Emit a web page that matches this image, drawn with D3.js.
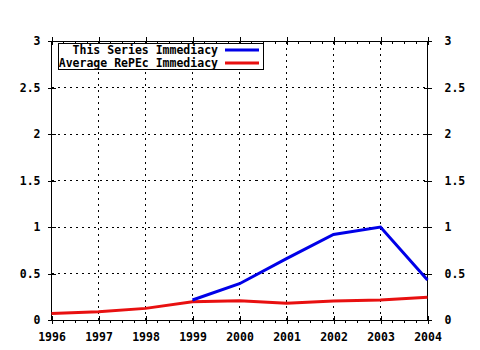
<!DOCTYPE html>
<html><head><meta charset="utf-8">
<script src="https://cdn.jsdelivr.net/npm/d3@7"></script>
<style>
body{margin:0;background:#fff;}
text{font-family:"DejaVu Sans Mono",monospace;font-weight:bold;font-size:11.5px;fill:#000;}
</style></head>
<body>
<svg id="c" width="480" height="350"></svg>
<script>
const years = [1996,1997,1998,1999,2000,2001,2002,2003,2004];
const seriesYears = [1999,2000,2001,2002,2003,2004];
const seriesValues = [0.215,0.39,0.66,0.92,1.0,0.43];
const averageValues = [0.07,0.09,0.125,0.197,0.207,0.18,0.205,0.215,0.244];
const yTicks = [0,0.5,1,1.5,2,2.5,3];
const yTickLabels = ["0","0.5","1","1.5","2","2.5","3"];
const legendLabels = ["This Series Immediacy","Average RePEc Immediacy"];
const colors = ["#0000e8","#e81010"];

const svg = d3.select("#c");
const L=51.5, R=427.5, T=41, B=320;
const x = d3.scaleLinear().domain([1996,2004]).range([L,R]);
const y = d3.scaleLinear().domain([0,3]).range([B,T]);

const g = svg.append("g");
// grid
g.selectAll(".gx").data(years.slice(1,-1)).enter().append("line")
  .attr("x1",d=>x(d)).attr("x2",d=>x(d)).attr("y1",B).attr("y2",T)
  .attr("stroke","#000").attr("stroke-width",1).attr("stroke-dasharray","2,4").attr("shape-rendering","crispEdges");
g.selectAll(".gy").data(yTicks.slice(1,-1)).enter().append("line")
  .attr("x1",L).attr("x2",R).attr("y1",d=>y(d)).attr("y2",d=>y(d))
  .attr("stroke","#000").attr("stroke-width",1).attr("stroke-dasharray","2,4").attr("shape-rendering","crispEdges");

// axes via d3
const fmtY = (d,i)=>yTickLabels[yTicks.indexOf(d)];
const minor = d3.range(1996,2004.001,0.25).filter(v=>Math.abs(v-Math.round(v))>0.01);
function styleAxis(sel){
  sel.select(".domain").remove();
  sel.selectAll("line").attr("stroke","#000").attr("shape-rendering","crispEdges");
}
// bottom
svg.append("g").attr("transform",`translate(0,${B})`)
  .call(d3.axisBottom(x).tickValues(years).tickFormat(d3.format("d")).tickSizeInner(4).tickSizeOuter(0).tickPadding(9))
  .call(styleAxis);
svg.append("g").attr("transform",`translate(0,${B})`)
  .call(d3.axisBottom(x).tickValues(minor).tickFormat("").tickSizeInner(3).tickSizeOuter(0))
  .call(styleAxis);
svg.append("g").attr("transform",`translate(0,${B})`)
  .call(d3.axisTop(x).tickValues(years).tickFormat("").tickSizeInner(4).tickSizeOuter(0))
  .call(styleAxis);
// top
svg.append("g").attr("transform",`translate(0,${T})`)
  .call(d3.axisTop(x).tickValues(years).tickFormat("").tickSizeInner(4).tickSizeOuter(0))
  .call(styleAxis);
svg.append("g").attr("transform",`translate(0,${T})`)
  .call(d3.axisBottom(x).tickValues(years).tickFormat("").tickSizeInner(4).tickSizeOuter(0))
  .call(styleAxis);
svg.append("g").attr("transform",`translate(0,${T})`)
  .call(d3.axisBottom(x).tickValues(minor).tickFormat("").tickSizeInner(3).tickSizeOuter(0))
  .call(styleAxis);
// left
svg.append("g").attr("transform",`translate(${L},0)`)
  .call(d3.axisLeft(y).tickValues(yTicks).tickFormat(fmtY).tickSizeInner(4).tickSizeOuter(0).tickPadding(7))
  .call(styleAxis);
svg.append("g").attr("transform",`translate(${L},0)`)
  .call(d3.axisRight(y).tickValues(yTicks).tickFormat("").tickSizeInner(4).tickSizeOuter(0))
  .call(styleAxis);
// right
svg.append("g").attr("transform",`translate(${R},0)`)
  .call(d3.axisRight(y).tickValues(yTicks).tickFormat(fmtY).tickSizeInner(4).tickSizeOuter(0).tickPadding(13))
  .call(styleAxis);
svg.append("g").attr("transform",`translate(${R},0)`)
  .call(d3.axisLeft(y).tickValues(yTicks).tickFormat("").tickSizeInner(4).tickSizeOuter(0))
  .call(styleAxis);
svg.selectAll(".tick text").style("font-family","'DejaVu Sans Mono',monospace").style("font-weight","bold").style("font-size","11.5px").attr("fill","#000");

// border
svg.append("rect").attr("x",L).attr("y",T).attr("width",R-L).attr("height",B-T)
  .attr("fill","none").attr("stroke","#000").attr("stroke-width",1).attr("shape-rendering","crispEdges");

// lines
const line = d3.line().x(d=>x(d[0])).y(d=>y(d[1]));
svg.append("path").datum(years.map((yr,i)=>[yr,averageValues[i]]))
  .attr("d",line).attr("fill","none").attr("stroke",colors[1]).attr("stroke-width",3);
svg.append("path").datum(seriesYears.map((yr,i)=>[yr,seriesValues[i]]))
  .attr("d",line).attr("fill","none").attr("stroke",colors[0]).attr("stroke-width",3);

// legend
svg.append("rect").attr("x",58.5).attr("y",43.5).attr("width",205).attr("height",26)
  .attr("fill","#fff").attr("stroke","#000").attr("stroke-width",1).attr("shape-rendering","crispEdges");
legendLabels.forEach((lab,i)=>{
  const yy = 50 + i*13;
  svg.append("text").attr("x",218).attr("y",yy).attr("dy","0.35em").attr("text-anchor","end").text(lab);
  svg.append("line").attr("x1",225).attr("x2",259).attr("y1",yy).attr("y2",yy)
    .attr("stroke",colors[i]).attr("stroke-width",3);
});
</script>
</body></html>
